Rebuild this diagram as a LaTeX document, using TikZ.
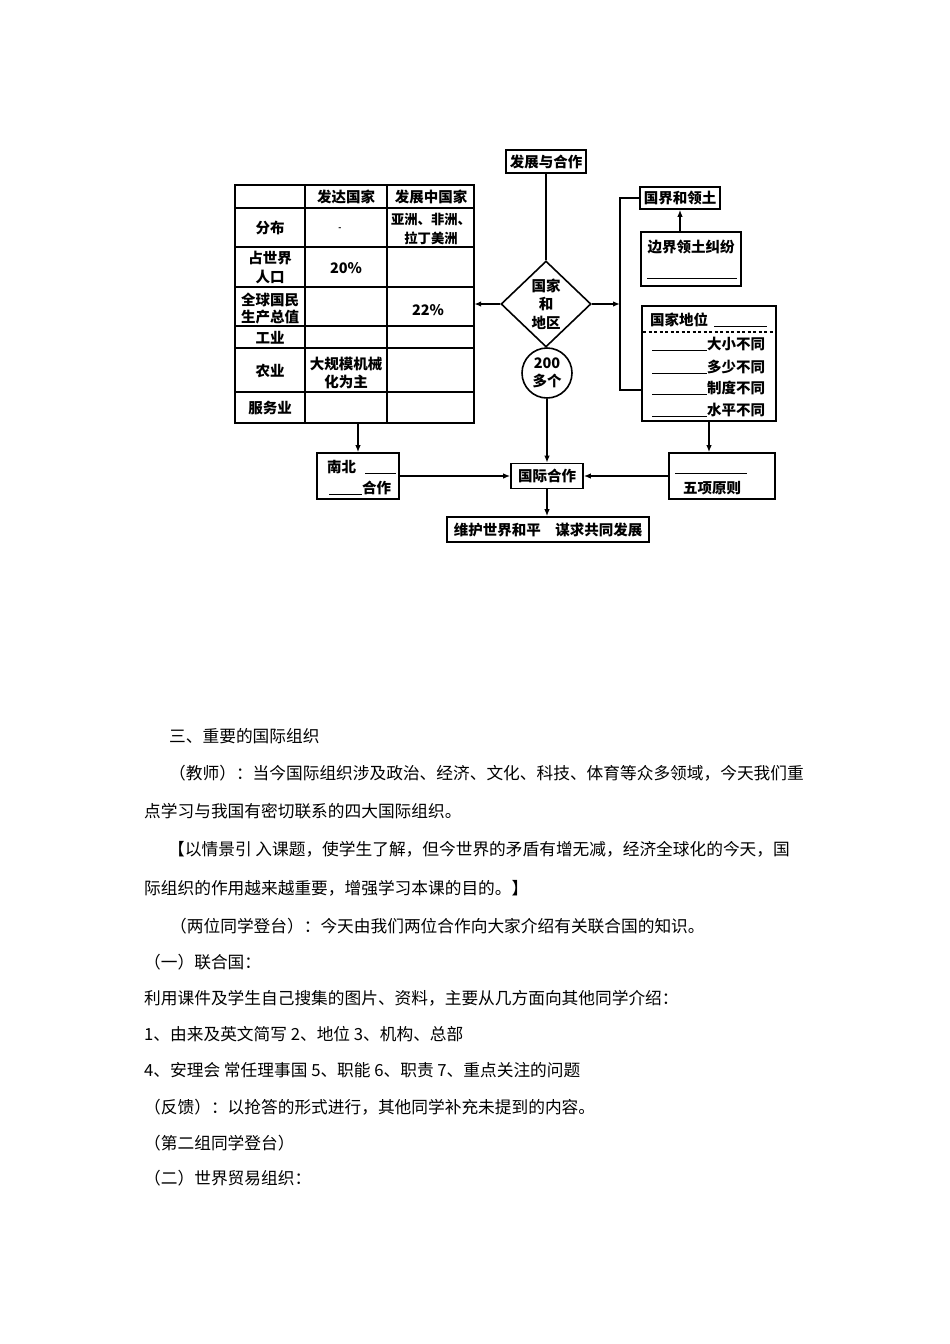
\documentclass[tikz,border=0pt]{standalone}
\usepackage{fontspec}
\setmainfont{Noto Sans CJK SC}
\usetikzlibrary{arrows.meta,shapes.geometric}
\newcommand{\dfont}{\fontsize{14.5}{17.5}\selectfont\bfseries}
\newcommand{\bfont}{\fontsize{16.7}{20}\selectfont}
\begin{document}
\begin{tikzpicture}[x=1pt,y=-1pt,
  box/.style={draw,line width=1.6pt,inner sep=0pt,font=\dfont,align=center},
  lab/.style={inner sep=0pt,font=\dfont,align=center},
  con/.style={line width=1.5pt},
  arr/.style={con,-{Latex[length=7pt,width=5.5pt]}},
  body/.style={inner sep=0pt,font=\bfont,anchor=west}]
\fill[white] (0,0) rectangle (950,1344);
\useasboundingbox (0,0) rectangle (950,1344);

% ---------- table ----------
\node[inner sep=0pt,minimum width=239pt,minimum height=238pt] (tab) at (354.5,304) {};
\draw[line width=2.2pt] (235,185) rectangle (474,423);
\foreach \y in {208,247,287,326,348,392} \draw[line width=1.3pt] (235,\y) -- (474,\y);
\foreach \x in {305,387} \draw[line width=1.3pt] (\x,185) -- (\x,423);
\node[lab] (h2) at (346,197) {发达国家};
\node[lab] (h3) at (431,197) {发展中国家};
\node[lab] (r1) at (270,228) {分布};
\node[lab] (r1b) at (340,229) {\fontsize{8}{8}\selectfont -};
\node[lab,font=\fontsize{13.3}{19}\selectfont\bfseries] (r1c) at (431,228.5) {亚洲、非洲、\\拉丁美洲};
\node[lab] (r2) at (270,267.5) {占世界\\[1.5pt]人口};
\node[lab] (r2b) at (346,268) {20\%};
\node[lab] (r3) at (270,308.5) {全球国民\\生产总值};
\node[lab] (r3c) at (428,310) {22\%};
\node[lab] (r4) at (270,338) {工业};
\node[lab] (r5) at (270,371) {农业};
\node[lab] (r5b) at (346,373) {大规模机械\\化为主};
\node[lab] (r6) at (270,408) {服务业};

% ---------- centre ----------
\node[box,minimum width=80pt,minimum height=23pt] (fz) at (546,161.5) {发展与合作};
\node[draw,diamond,line width=1.6pt,inner sep=0pt,minimum width=90pt,minimum height=86pt,font=\dfont,align=center] (dq) at (546,304) {国家\\[1pt]和\\[1pt]地区};
\node[circle,draw,line width=1.6pt,minimum size=50pt,inner sep=0pt,font=\dfont,align=center] (c200) at (547,373) {200\\多个};
\draw[con] (fz.south) -- (dq.north);
\draw[arr] (dq.west) -- (tab.east);
\coordinate (bus) at (620,304);
\draw[arr] (dq.east) -- (bus);

% ---------- right ----------
\node[box,minimum width=80pt,minimum height=22pt] (gj) at (680,198) {国界和领土};
\node[box,minimum width=100pt,minimum height=54pt] (bj) at (691,259) {};
\node[lab] (bjt) at (691,247) {边界领土纠纷};
\node[lab] (bjb) at (692,278) {\rule{90pt}{0.9pt}};
\draw[arr] (bj.north -| gj.south) -- (gj.south);

\node[box,minimum width=134pt,minimum height=115pt] (dw) at (709,363.5) {};
\draw[line width=1.2pt,dash pattern=on 3pt off 2.5pt] (643,332) -- (775,332);
\node[lab,anchor=base west] (dwt) at (650,325.5) {国家地位\hspace{6pt}\rule[-1pt]{53pt}{1pt}};
\node[lab,anchor=base west] (d1) at (652,349.5) {\rule[-1pt]{55pt}{1pt}大小不同};
\node[lab,anchor=base west] (d2) at (652,372.5) {\rule[-1pt]{55pt}{1pt}多少不同};
\node[lab,anchor=base west] (d3) at (652,393.5) {\rule[-1pt]{55pt}{1pt}制度不同};
\node[lab,anchor=base west] (d4) at (652,415.5) {\rule[-1pt]{55pt}{1pt}水平不同};

\coordinate (bt) at (620,198);
\coordinate (bb) at (620,390);
\draw[con] (gj.west) -- (bt) -- (bb) -- (bb -| dw.west);

% ---------- bottom ----------
\node[box,minimum width=82pt,minimum height=46pt] (nb) at (358,476) {};
\node[lab,anchor=base west] (nb1) at (327,472.5) {南北\hspace{9pt}\rule[-1pt]{31pt}{1pt}};
\node[lab,anchor=base west] (nb2) at (329,493.5) {\rule[-1pt]{33pt}{1pt}合作};
\draw[arr] (tab.south -| nb.north) -- (nb.north);

\node[box,minimum width=72pt,minimum height=25pt] (gh) at (547,476) {国际合作};
\node[box,minimum width=106pt,minimum height=46pt] (wx) at (722,476) {};
\node[lab] (wx1) at (711,473) {\rule{72pt}{1pt}};
\node[lab] (wx2) at (712,488) {五项原则};
\node[box,minimum width=202pt,minimum height=25pt] (wh) at (548,529.5) {维护世界和平\hspace{14.5pt}谋求共同发展};

\draw[arr] (c200.south) -- (c200.south |- gh.north);
\draw[arr] (nb.east) -- (gh.west);
\draw[arr] (wx.west) -- (gh.east);
\draw[arr] (gh.south) -- (gh.south |- wh.north);
\draw[arr] (dw.south) -- (dw.south |- wx.north);

% ---------- body text ----------
\node[body] (t1) at (169,736) {三、重要的国际组织};
\node[body] (t2) at (169,773) {（教师）：当今国际组织涉及政治、经济、文化、科技、体育等众多领域，今天我们重};
\node[body] (t3) at (144,811) {点学习与我国有密切联系的四大国际组织。};
\node[body] (t4) at (168,849) {【以情景引 入课题，使学生了解，但今世界的矛盾有增无减，经济全球化的今天，国};
\node[body] (t5) at (144,888) {际组织的作用越来越重要，增强学习本课的目的。】};
\node[body] (t6) at (170,926) {（两位同学登台）：今天由我们两位合作向大家介绍有关联合国的知识。};
\node[body] (t7) at (144,962) {（一）联合国：};
\node[body] (t8) at (144,998) {利用课件及学生自己搜集的图片、资料，主要从几方面向其他同学介绍：};
\node[body] (t9) at (144,1034) {1、由来及英文简写 2、地位 3、机构、总部};
\node[body] (t10) at (144,1070) {4、安理会 常任理事国 5、职能 6、职责 7、重点关注的问题};
\node[body] (t11) at (144,1107) {（反馈）：以抢答的形式进行，其他同学补充未提到的内容。};
\node[body] (t12) at (144,1143) {（第二组同学登台）};
\node[body] (t13) at (144,1178) {（二）世界贸易组织：};
\end{tikzpicture}
\end{document}
